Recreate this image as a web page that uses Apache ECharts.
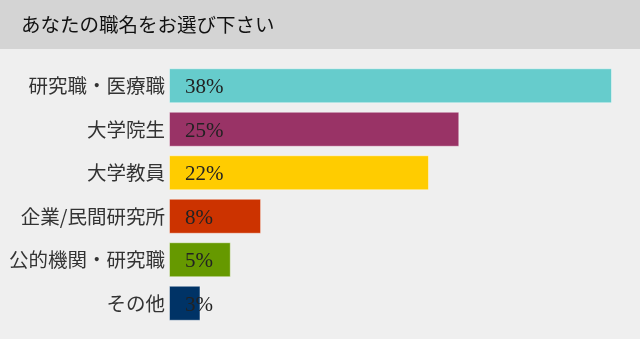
<!DOCTYPE html>
<html><head><meta charset="utf-8">
<script src="https://cdn.jsdelivr.net/npm/echarts@6/dist/echarts.min.js"></script>
<style>html,body{margin:0;padding:0;background:#efefef}#c{width:640px;height:339px}</style>
</head><body><div id="c"></div>
<script>
const titleText = 'あなたの職名をお選び下さい';
const categories = ['研究職・医療職','大学院生','大学教員','企業/民間研究所','公的機関・研究職','その他'];
const values = [38, 24.9, 22.3, 7.9, 5.3, 2.7];
const valueLabels = ['38%','25%','22%','8%','5%','3%'];
const colors = ['#66cccc','#993366','#ffcc00','#cc3300','#669900','#003366'];

const chart = echarts.init(document.getElementById('c'), null, {renderer:'canvas'});
chart.setOption({
  backgroundColor:'#efefef',
  animation:false,
  graphic:[{type:'rect', left:0, top:0, shape:{width:640, height:49}, style:{fill:'#d4d4d4'}, z:-1}],
  title:{text:titleText, left:21, top:15, padding:0, textStyle:{fontFamily:'Noto Sans CJK JP', fontSize:19.5, fontWeight:'normal', color:'#111'}},
  grid:{left:169, right:28, top:64, bottom:14},
  xAxis:{type:'value', min:0, max:38, show:false},
  yAxis:{type:'category', inverse:true, data:categories,
    axisLine:{show:false}, axisTick:{show:false},
    axisLabel:{margin:4, fontFamily:'Noto Sans CJK JP', fontSize:19.5, color:'#333'}},
  series:[{type:'bar', barCategoryGap:'19.5%',
    data: values.map((v,i)=>({value:v, itemStyle:{color:colors[i]}})),
    itemStyle:{borderColor:'rgba(255,255,255,0.45)', borderWidth:1},
    label:{show:true, position:'insideLeft', distance:16, offset:[0,2],
      formatter:p=>valueLabels[p.dataIndex],
      fontFamily:'Liberation Serif', fontSize:21, color:'#222'}}]
});
</script></body></html>
